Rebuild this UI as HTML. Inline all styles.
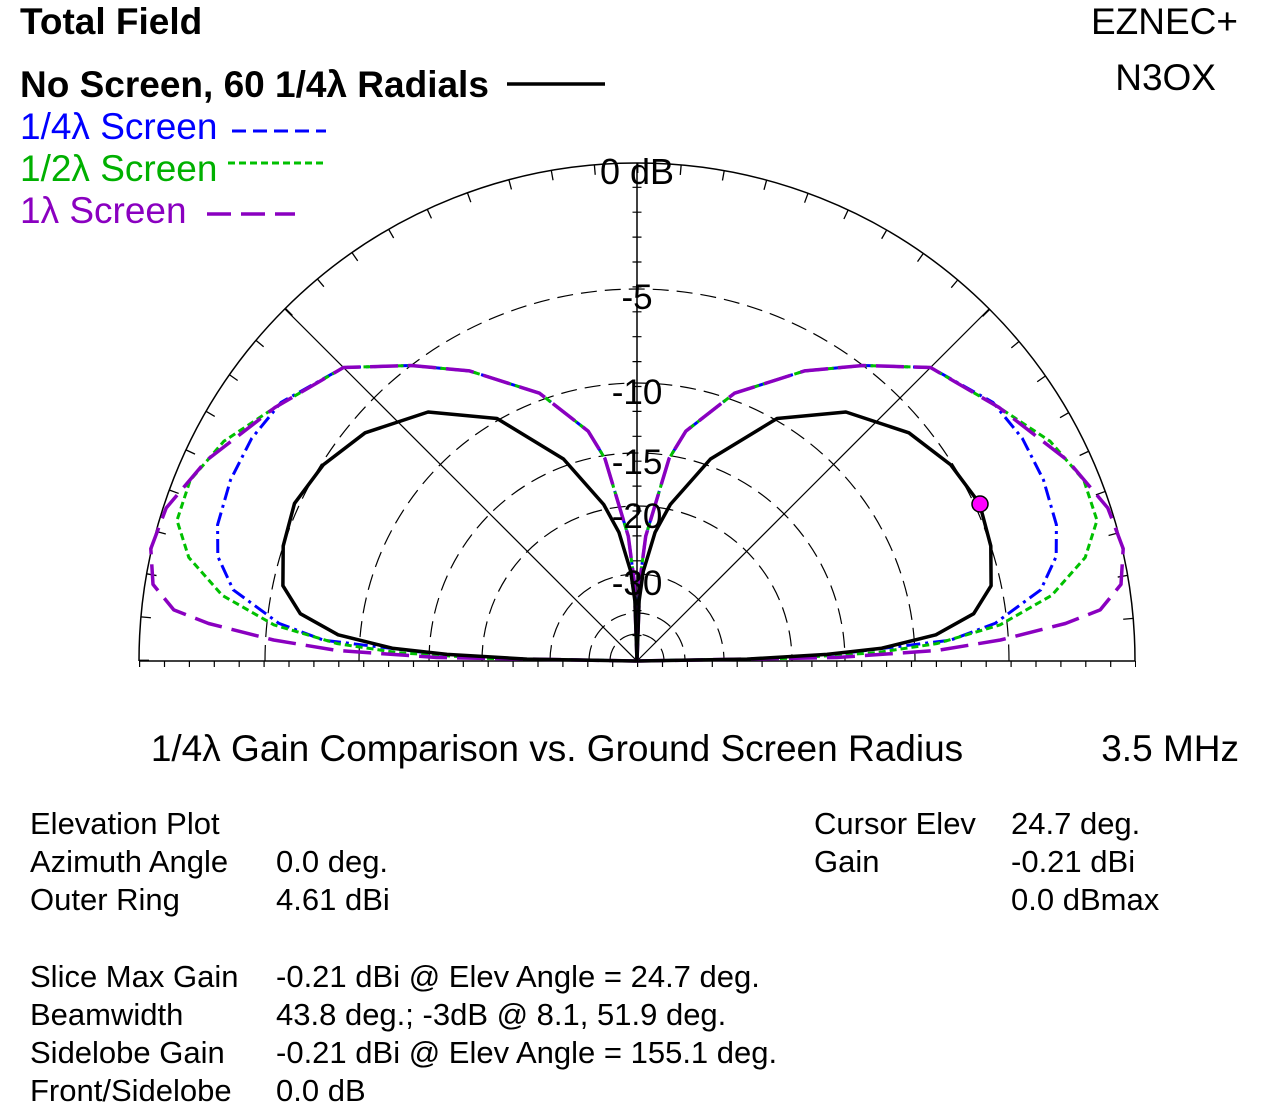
<!DOCTYPE html>
<html><head><meta charset="utf-8"><style>
body{margin:0;background:#fff;}
svg{display:block;font-family:"Liberation Sans",Arial,sans-serif;}
</style></head><body>
<svg width="1275" height="1112" viewBox="0 0 1275 1112" xmlns="http://www.w3.org/2000/svg">
<defs>
<clipPath id="up"><rect x="0" y="0" width="1275" height="661"/></clipPath>
</defs>
<!-- grid -->
<g fill="none" stroke="#000">
<path d="M139,661 A498,498 0 0 1 1135,661" stroke-width="1.5"/>
<circle cx="637" cy="661" r="493" stroke-width="10" stroke-dasharray="1.3 41.72" clip-path="url(#up)"/>
<g stroke-width="1.2" stroke-dasharray="16 8">
<path d="M265,661 A372,372 0 0 1 1009,661"/>
<path d="M359,661 A278,278 0 0 1 915,661"/>
<path d="M429,661 A208,208 0 0 1 845,661"/>
<path d="M482,661 A155,155 0 0 1 792,661"/>
<path d="M550,661 A87,87 0 0 1 724,661"/>
<path d="M589,661 A48,48 0 0 1 685,661"/>
<path d="M610,661 A27,27 0 0 1 664,661"/>
</g>
<line x1="139" y1="661" x2="1135" y2="661" stroke-width="1.5"/>
<line x1="637" y1="661" x2="637" y2="163" stroke-width="1.5"/>
<line x1="637" y1="661" x2="989.1" y2="308.9" stroke-width="1.2"/>
<line x1="637" y1="661" x2="284.9" y2="308.9" stroke-width="1.2"/>
<line x1="139" y1="664" x2="1136" y2="664" stroke-width="6" stroke-dasharray="1.2 23.7"/>
<line x1="637" y1="661" x2="637" y2="163" stroke-width="9" stroke-dasharray="1.2 23.7"/>
</g>
<!-- curves -->
<g fill="none" stroke-linejoin="round">
<g id="cb"><polyline stroke="#0000ff" stroke-width="3" stroke-dasharray="14 5 3 5" points="637,661 757,658.9 836.9,654 950.3,640.2 995,623.4 1040.8,589.8 1056.2,556.5 1056.4,524.7 1043.5,480 1022.4,438.5 993,402.4 930.5,367.5 863,365.5 804.5,370.9 734.5,393.2 685.9,431.1 669.1,458.5 645.7,536.3 639.8,581 637,661"/></g>
<g id="cg"><polyline stroke="#00c000" stroke-width="3" stroke-dasharray="7 4" points="637,661 787,658.4 876.9,652.6 936.5,643.7 1000.2,624.8 1051.8,595.3 1085.2,557.5 1097,520.4 1083.9,480.4 1050.2,441.3 999.1,407.5 930.5,367.5 863,365.5 804.5,370.9 734.5,393.2 685.9,431.1 669.1,458.5 645.7,536.3 639.8,581 637,661"/></g>
<g id="cp"><polyline stroke="#8a00c0" stroke-width="3.5" stroke-dasharray="28 10" points="637,661 837,657.5 936.8,650.5 1000.4,640 1065.4,623.5 1100.2,609.9 1121,584.4 1123.2,548.7 1107.8,508 1067.5,460.3 999.1,407.5 930.5,367.5 863,365.5 804.5,370.9 734.5,393.2 685.9,431.1 669.1,458.5 645.7,536.3 639.8,581 637,661"/></g>
<g id="ck"><polyline stroke="#000" stroke-width="3.5" points="637,661 747,659.1 826.9,654.4 881.7,648.2 935.9,634.8 973.7,613.7 991.1,585.7 990.8,546 979.5,503.4 950.8,464.9 908.9,432.8 845.9,412 777,418.5 710.5,459 670.3,504.5 655.1,532.3 643.3,571.2 639.1,601 637,661"/></g>
<g transform="translate(1274,0) scale(-1,1)">
<use href="#cb"/><use href="#cg"/><use href="#cp"/><use href="#ck"/>
</g>
</g>
<g font-size="35" text-anchor="middle">
<text x="637" y="184" font-size="36">0 dB</text>
<text x="637" y="309">-5</text>
<text x="637" y="404">-10</text>
<text x="637" y="474">-15</text>
<text x="637" y="528">-20</text>
<text x="637" y="595">-30</text>
</g>
<circle cx="980" cy="504" r="8" fill="#ff00ff" stroke="#000" stroke-width="1.5"/>
<g font-size="37">
<text x="20" y="34" font-weight="bold">Total Field</text>
<text x="20" y="97" font-weight="bold">No Screen, 60 1/4λ Radials</text>
<line x1="507" y1="84" x2="605" y2="84" stroke="#000" stroke-width="3.5"/>
<text x="20" y="139" fill="#0000ff">1/4λ Screen</text>
<line x1="232" y1="131" x2="326" y2="131" stroke="#0000ff" stroke-width="3" stroke-dasharray="14 7"/>
<text x="20" y="181" fill="#00b000">1/2λ Screen</text>
<line x1="228" y1="163" x2="326" y2="163" stroke="#00c000" stroke-width="3" stroke-dasharray="7 4"/>
<text x="20" y="223" fill="#8a00c0">1λ Screen</text>
<line x1="207" y1="214" x2="295" y2="214" stroke="#8a00c0" stroke-width="3.5" stroke-dasharray="24 10"/>
<text x="1238" y="34" text-anchor="end">EZNEC+</text>
<text x="1216" y="90" text-anchor="end">N3OX</text>
<text x="557" y="761" text-anchor="middle">1/4λ Gain Comparison vs. Ground Screen Radius</text>
<text x="1239" y="761" text-anchor="end">3.5 MHz</text>
</g>
<g font-size="31">
<text x="30" y="834">Elevation Plot</text>
<text x="30" y="872">Azimuth Angle</text><text x="276" y="872">0.0 deg.</text>
<text x="30" y="910">Outer Ring</text><text x="276" y="910">4.61 dBi</text>
<text x="30" y="987">Slice Max Gain</text><text x="276" y="987">-0.21 dBi @ Elev Angle = 24.7 deg.</text>
<text x="30" y="1025">Beamwidth</text><text x="276" y="1025">43.8 deg.; -3dB @ 8.1, 51.9 deg.</text>
<text x="30" y="1063">Sidelobe Gain</text><text x="276" y="1063">-0.21 dBi @ Elev Angle = 155.1 deg.</text>
<text x="30" y="1101">Front/Sidelobe</text><text x="276" y="1101">0.0 dB</text>
<text x="814" y="834">Cursor Elev</text><text x="1011" y="834">24.7 deg.</text>
<text x="814" y="872">Gain</text><text x="1011" y="872">-0.21 dBi</text>
<text x="1011" y="910">0.0 dBmax</text>
</g>
</svg>
</body></html>
